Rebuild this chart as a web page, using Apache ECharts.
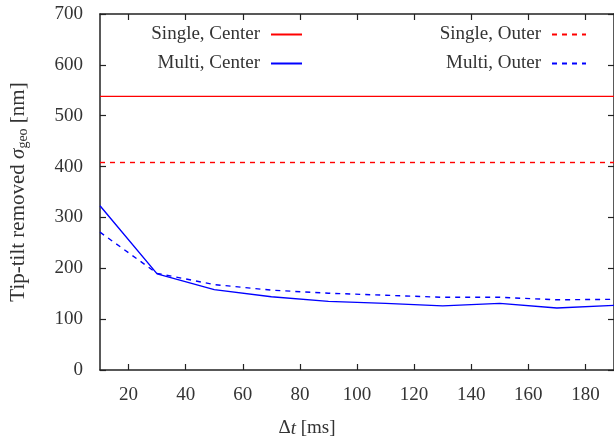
<!DOCTYPE html>
<html>
<head>
<meta charset="utf-8">
<script src="https://cdn.jsdelivr.net/npm/echarts@6/dist/echarts.min.js"></script>
<style>
html,body{margin:0;padding:0;background:#fff;}
#c{width:614px;height:446px;}
</style>
</head>
<body>
<div id="c"></div>
<script>
const dt = [10, 30, 50, 70, 90, 110, 130, 150, 170, 190];
const multiCenter = [323, 189, 158, 144, 135, 131, 126, 131, 122, 127];
const multiOuter = [271, 190, 168, 157, 151, 147, 143, 143, 138, 139];
const singleCenter = 538;
const singleOuter = 408;
const xTicks = [20, 40, 60, 80, 100, 120, 140, 160, 180];
const yTicks = [0, 100, 200, 300, 400, 500, 600, 700];

const FONT = 'Liberation Serif';
const pair = (xs, ys) => xs.map((x, i) => [x, ys[i]]);
const flat = (v) => [[dt[0], v], [dt[dt.length - 1], v]];

const chart = echarts.init(document.getElementById('c'), null, {renderer: 'canvas'});
const axisLine = {show: true, onZero: false, lineStyle: {color: '#222', width: 1.5}};
const tick = {show: true, inside: true, length: 6, lineStyle: {color: '#222', width: 1.2}};

chart.setOption({
  animation: false,
  backgroundColor: '#fff',
  grid: {left: 99, top: 14, width: 519, height: 356, containLabel: false},
  xAxis: [
    {type: 'value', min: 10, max: 190, position: 'bottom',
     axisLine: axisLine,
     axisTick: Object.assign({}, tick, {customValues: xTicks}),
     axisLabel: {customValues: xTicks, margin: 16, fontFamily: FONT, fontSize: 19, color: '#333'},
     splitLine: {show: false}},
    {type: 'value', min: 10, max: 190, position: 'top',
     axisLine: axisLine,
     axisTick: Object.assign({}, tick, {customValues: xTicks}),
     axisLabel: {show: false},
     splitLine: {show: false}}
  ],
  yAxis: [
    {type: 'value', min: 0, max: 700, interval: 100, position: 'left',
     axisLine: axisLine, axisTick: tick,
     axisLabel: {margin: 17, fontFamily: FONT, fontSize: 19, color: '#333'},
     splitLine: {show: false},
     name: '{a|Tip-tilt removed }{i|σ}{s|geo}{a| [nm]}',
     nameLocation: 'middle', nameGap: 70,
     nameTextStyle: {
       fontFamily: FONT, fontSize: 21, color: '#333',
       rich: {
         a: {fontFamily: FONT, fontSize: 21, color: '#333'},
         i: {fontFamily: FONT, fontSize: 21, fontStyle: 'italic', color: '#333'},
         s: {fontFamily: FONT, fontSize: 14, color: '#333', verticalAlign: 'bottom', padding: [9, 0, 0, 0]}
       }
     }},
    {type: 'value', min: 0, max: 700, interval: 100, position: 'right',
     axisLine: axisLine, axisTick: tick, axisLabel: {show: false},
     splitLine: {show: false}}
  ],
  legend: [
    {data: ['Single, Center', 'Multi, Center'], orient: 'vertical', align: 'right',
     right: 311, top: 25, padding: 0, itemGap: 10, itemWidth: 31, itemHeight: 18,
     itemStyle: {opacity: 0},
     textStyle: {fontFamily: FONT, fontSize: 19, color: '#333', padding: [0, 6, 0, 0]}},
    {data: ['Single, Outer', 'Multi, Outer'], orient: 'vertical', align: 'right',
     right: 27, top: 25, padding: 0, itemGap: 10, itemWidth: 34, itemHeight: 18,
     itemStyle: {opacity: 0},
     textStyle: {fontFamily: FONT, fontSize: 19, color: '#333', padding: [0, 6, 0, 0]}}
  ],
  series: [
    {name: 'Single, Center', type: 'line', data: flat(singleCenter), symbol: 'none',
     lineStyle: {color: '#ff0000', width: 1.4}, itemStyle: {color: '#ff0000'}},
    {name: 'Multi, Center', type: 'line', data: pair(dt, multiCenter), symbol: 'none',
     lineStyle: {color: '#0000ff', width: 1.4}, itemStyle: {color: '#0000ff'}},
    {name: 'Single, Outer', type: 'line', data: flat(singleOuter), symbol: 'none',
     lineStyle: {color: '#ff0000', width: 1.4, type: [5, 5]}, itemStyle: {color: '#ff0000'}},
    {name: 'Multi, Outer', type: 'line', data: pair(dt, multiOuter), symbol: 'none',
     lineStyle: {color: '#0000ff', width: 1.4, type: [5, 5]}, itemStyle: {color: '#0000ff'}}
  ],
  graphic: [
    {type: 'text', left: 'center', x: 0, top: 419,
     style: {rich: {i: {fontFamily: FONT, fontSize: 19, fontStyle: 'italic', fill: '#333'},
                    a: {fontFamily: FONT, fontSize: 19, fill: '#333'}},
             text: '{a|Δ}{i|t}{a| [ms]}'}}
  ]
});
</script>
</body>
</html>
